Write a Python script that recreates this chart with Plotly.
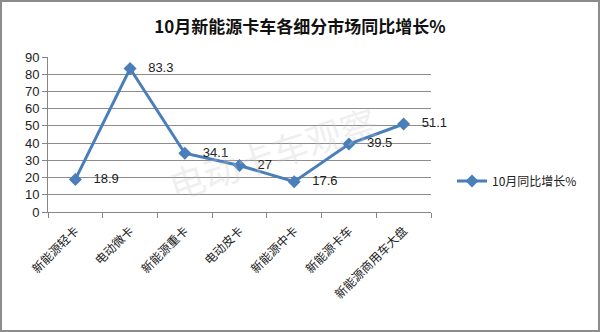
import plotly.graph_objects as go

categories = ["新能源轻卡", "电动微卡", "新能源重卡", "电动皮卡", "新能源中卡", "新能源卡车", "新能源商用车大盘"]
growth = [18.9, 83.3, 34.1, 27, 17.6, 39.5, 51.1]
series_name = "10月同比增长%"
title_text = "10月新能源卡车各细分市场同比增长%"
watermark = "电动卡车观察"

W, H = 600, 332
L, R, T, B = 48, 169, 57, 120
pw, ph = W - L - R, H - T - B

BLUE = "#4A7EBB"
FONT = "Noto Sans CJK SC, Liberation Sans, sans-serif"

fig = go.Figure()
fig.add_trace(go.Scatter(
    x=categories, y=growth, name=series_name,
    mode="lines+markers+text",
    line=dict(color=BLUE, width=3),
    marker=dict(symbol="diamond", size=10, color=BLUE),
    text=[f"   {v:g}" for v in growth],
    textposition="middle right",
    textfont=dict(size=13, color="#222", family="Liberation Sans, sans-serif"),
    cliponaxis=False,
))

# figure border in paper coordinates
def px_x(p):
    return (p - L) / pw

def px_y(p):
    return 1 - (p - T) / ph

fig.add_shape(type="rect", xref="paper", yref="paper",
              x0=px_x(1), x1=px_x(W - 1), y0=px_y(H - 1), y1=px_y(1),
              line=dict(color="#8c8c8c", width=2), layer="below")

fig.add_annotation(text=watermark, xref="paper", yref="paper",
                   x=px_x(385), y=px_y(152), showarrow=False, textangle=-18,
                   font=dict(size=36, color="rgba(200,200,200,0.3)", family=FONT))

fig.update_layout(
    width=W, height=H,
    margin=dict(l=L, r=R, t=T, b=B),
    paper_bgcolor="white", plot_bgcolor="white",
    title=dict(text=f"<b>{title_text}</b>", x=0.5, xanchor="center", y=1 - 27 / H, yanchor="middle",
               font=dict(size=17, color="#111", family=FONT)),
    showlegend=True,
    legend=dict(x=px_x(452), y=px_y(181), xanchor="left", yanchor="middle",
                font=dict(size=12, color="#222", family=FONT), bgcolor="rgba(0,0,0,0)"),
    xaxis=dict(
        type="category", tickson="boundaries", ticks="outside", ticklen=5,
        tickcolor="#868686", showline=True, linecolor="#868686", linewidth=1,
        showgrid=False, tickangle=-45, ticklabelstandoff=6,
        tickfont=dict(size=12, color="#222", family=FONT),
        range=[-0.5, len(categories) - 0.5],
    ),
    yaxis=dict(
        range=[0, 90], dtick=10, tick0=0, ticks="outside", ticklen=5,
        tickcolor="#868686", showline=True, linecolor="#868686", linewidth=1,
        showgrid=True, gridcolor="#8c8c8c", gridwidth=1, zeroline=False,
        tickfont=dict(size=13, color="#222", family="Liberation Sans, sans-serif"),
    ),
)

fig.write_html("out.html")
